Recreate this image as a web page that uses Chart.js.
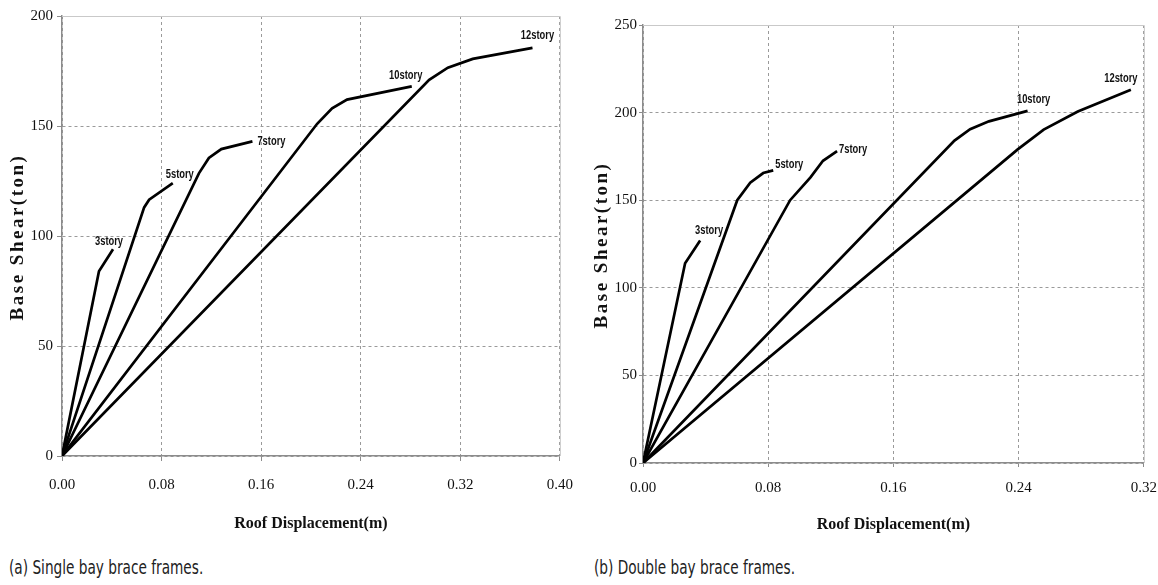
<!DOCTYPE html>
<html>
<head>
<meta charset="utf-8">
<script src="https://cdn.jsdelivr.net/npm/chart.js@4.4.1/dist/chart.umd.min.js"></script>
<style>
    html, body { margin: 0; padding: 0; background: #ffffff; }
    body { width: 1158px; height: 585px; position: relative; overflow: hidden; }
    canvas { position: absolute; top: 0; }
    #chartA { left: 0; }
    #chartB { left: 585px; }
    .caption {
        position: absolute;
        top: 556px;
        font-family: 'Liberation Sans Narrow', 'DejaVu Sans Condensed', 'Liberation Sans', sans-serif;
        font-size: 19px;
        color: #222;
        white-space: nowrap;
        transform: scaleX(0.8);
        transform-origin: left center;
    }
</style>
</head>
<body>
<canvas id="chartA" width="588" height="545"></canvas>
<canvas id="chartB" width="584" height="545"></canvas>
<div class="caption" style="left: 9px;">(a) Single bay brace frames.</div>
<div class="caption" style="left: 594px;">(b) Double bay brace frames.</div>

<script>
// ============================================================================
// Data
// ============================================================================

const storyNames = ['3story', '5story', '7story', '10story', '12story'];

// (a) single bay: roof displacement (m) and base shear (ton)
const singleDisp = [
    [0, 0.0297, 0.041],
    [0, 0.066, 0.070, 0.089],
    [0, 0.110, 0.118, 0.128, 0.153],
    [0, 0.205, 0.217, 0.229, 0.281],
    [0, 0.295, 0.310, 0.330, 0.378]
];
const singleShear = [
    [0, 84, 94],
    [0, 113, 116.5, 124],
    [0, 128.5, 135.5, 139.5, 143],
    [0, 151, 158, 162, 168],
    [0, 171, 176.5, 180.5, 185.5]
];

// (b) double bay
const doubleDisp = [
    [0, 0.0269, 0.0365],
    [0, 0.0602, 0.0685, 0.0768, 0.0832],
    [0, 0.094, 0.107, 0.115, 0.124],
    [0, 0.199, 0.209, 0.221, 0.2457],
    [0, 0.2394, 0.256, 0.2778, 0.3117]
];
const doubleShear = [
    [0, 114, 127],
    [0, 150, 160, 165.5, 167],
    [0, 150, 163, 172.5, 178],
    [0, 184, 190.5, 195, 201],
    [0, 179, 190.3, 200.6, 213]
];

const singleXTicks = [0, 0.08, 0.16, 0.24, 0.32, 0.40];
const singleYTicks = [0, 50, 100, 150, 200];
const doubleXTicks = [0, 0.08, 0.16, 0.24, 0.32];
const doubleYTicks = [0, 50, 100, 150, 200, 250];

const xTitle = 'Roof Displacement(m)';
const yTitle = 'Base Shear(ton)';

// label offsets from each curve's last point (px)
const singleLabelOffsets = [[-4, -8], [7, -9], [19, 0], [-6, -11], [5, -12]];
const doubleLabelOffsets = [[9, -10], [16, -6], [16, -1], [6, -11], [-10, -11]];

// ============================================================================
// Plugins
// ============================================================================

const frameAndLabels = {
    id: 'frameAndLabels',
    beforeDatasetsDraw(chart) {
        const { ctx, chartArea: a } = chart;
        ctx.save();
        ctx.strokeStyle = '#c9c9c9';
        ctx.lineWidth = 1;
        ctx.beginPath();
        ctx.moveTo(a.left, a.top + 0.5);
        ctx.lineTo(a.right + 0.5, a.top + 0.5);
        ctx.lineTo(a.right + 0.5, a.bottom);
        ctx.stroke();
        ctx.restore();
    },
    afterDatasetsDraw(chart) {
        const { ctx } = chart;
        const offsets = chart.options.plugins.frameAndLabels.offsets;
        ctx.save();
        ctx.font = 'bold 12px "Liberation Sans Narrow", "Liberation Sans", sans-serif';
        ctx.fillStyle = '#111';
        ctx.textAlign = 'center';
        ctx.textBaseline = 'middle';
        chart.data.datasets.forEach((ds, i) => {
            const pts = chart.getDatasetMeta(i).data;
            const last = pts[pts.length - 1];
            ctx.save();
            ctx.translate(last.x + offsets[i][0], last.y + offsets[i][1]);
            ctx.scale(0.78, 1);
            ctx.fillText(ds.label, 0, 0);
            ctx.restore();
        });
        ctx.restore();
    },
    afterDraw(chart) {
        const { ctx, chartArea: a } = chart;
        const cx = chart.options.plugins.frameAndLabels.titleX;
        ctx.save();
        ctx.translate(cx, (a.top + a.bottom) / 2 + 1);
        ctx.rotate(-Math.PI / 2);
        ctx.font = 'bold 19px "Liberation Serif", "Times New Roman", serif';
        ctx.letterSpacing = '2.5px';
        ctx.fillStyle = '#111';
        ctx.textAlign = 'center';
        ctx.textBaseline = 'middle';
        ctx.fillText(yTitle, 0, 0);
        ctx.restore();
    }
};

// ============================================================================
// Chart builder
// ============================================================================

function buildDatasets(dispSets, shearSets) {
    return storyNames.map((name, i) => ({
        label: name,
        data: dispSets[i].map((x, j) => ({ x, y: shearSets[i][j] })),
        showLine: true,
        borderColor: '#000000',
        borderWidth: 2.7,
        pointRadius: 0,
        tension: 0
    }));
}

function renderCurveChart(canvasId, opts) {
    const ctx = document.getElementById(canvasId);
    const tickFont = { family: '"Liberation Serif", "Times New Roman", serif', size: 15 };

    return new Chart(ctx, {
        type: 'scatter',
        data: { datasets: buildDatasets(opts.disp, opts.shear) },
        plugins: [frameAndLabels],
        options: {
            responsive: false,
            animation: false,
            devicePixelRatio: 1,
            layout: { padding: opts.padding },
            scales: {
                x: {
                    type: 'linear',
                    min: opts.xTicks[0],
                    max: opts.xTicks[opts.xTicks.length - 1],
                    afterBuildTicks: s => { s.ticks = opts.xTicks.map(v => ({ value: v })); },
                    afterFit: s => { s.height = opts.xAxisHeight; },
                    ticks: {
                        font: tickFont,
                        color: '#111',
                        padding: opts.xTickPad,
                        maxRotation: 0,
                        callback: v => Number(v).toFixed(2)
                    },
                    grid: {
                        color: '#9a9a9a',
                        lineWidth: 1,
                        borderDash: [3, 3],
                        tickLength: opts.tickLen,
                        tickColor: '#8c8c8c'
                    },
                    border: { color: '#8c8c8c', width: 1.5, dash: [3, 3] },
                    title: {
                        display: true,
                        text: xTitle,
                        color: '#111',
                        font: { family: '"Liberation Serif", "Times New Roman", serif', size: 16, weight: 'bold' },
                        padding: { top: 0, bottom: opts.xTitlePad }
                    }
                },
                y: {
                    type: 'linear',
                    min: opts.yTicks[0],
                    max: opts.yTicks[opts.yTicks.length - 1],
                    afterBuildTicks: s => { s.ticks = opts.yTicks.map(v => ({ value: v })); },
                    afterFit: s => { s.width = opts.yAxisWidth; },
                    ticks: {
                        font: tickFont,
                        color: '#111',
                        padding: opts.yTickPad
                    },
                    grid: {
                        color: '#9a9a9a',
                        lineWidth: 1,
                        borderDash: [3, 3],
                        tickLength: opts.tickLen,
                        tickColor: '#8c8c8c'
                    },
                    border: { color: '#8c8c8c', width: 1.5, dash: [3, 3] },
                    title: { display: false }
                }
            },
            plugins: {
                legend: { display: false },
                tooltip: { enabled: false },
                frameAndLabels: { offsets: opts.labelOffsets, titleX: opts.yTitleX }
            }
        }
    });
}

// ============================================================================
// Render
// ============================================================================

renderCurveChart('chartA', {
    disp: singleDisp,
    shear: singleShear,
    xTicks: singleXTicks,
    yTicks: singleYTicks,
    labelOffsets: singleLabelOffsets,
    padding: { left: 0, top: 16, right: 20, bottom: 0 },
    yAxisWidth: 62,
    xAxisHeight: 89,
    tickLen: 5,
    xTickPad: 15,
    yTickPad: 4,
    xTitlePad: 12,
    yTitleX: 18
});

renderCurveChart('chartB', {
    disp: doubleDisp,
    shear: doubleShear,
    xTicks: doubleXTicks,
    yTicks: doubleYTicks,
    labelOffsets: doubleLabelOffsets,
    padding: { left: 0, top: 25, right: 15, bottom: 0 },
    yAxisWidth: 58,
    xAxisHeight: 82,
    tickLen: 4,
    xTickPad: 12,
    yTickPad: 2,
    xTitlePad: 11,
    yTitleX: 17
});
</script>
</body>
</html>
